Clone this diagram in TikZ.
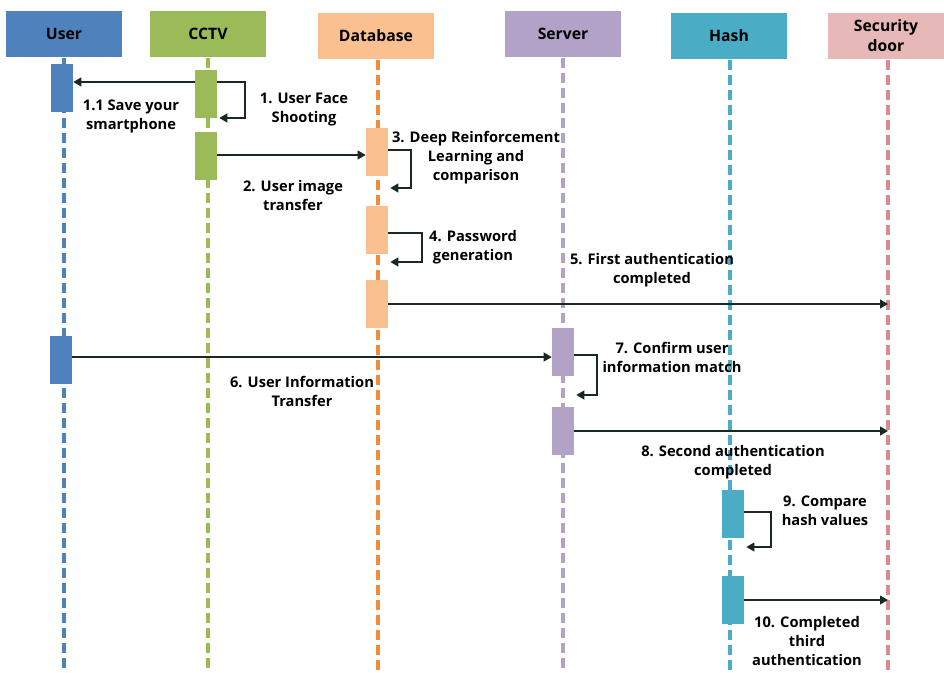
\documentclass[tikz,border=0pt]{standalone}
\usepackage{fontspec}
\setmainfont{Open Sans}
\usepackage{xcolor}
\usetikzlibrary{arrows.meta, positioning, calc}

\definecolor{ublue}{RGB}{79,129,189}
\definecolor{cgreen}{RGB}{155,187,89}
\definecolor{dbhead}{RGB}{250,192,144}
\definecolor{dbline}{RGB}{240,140,60}
\definecolor{spurple}{RGB}{178,162,199}
\definecolor{hteal}{RGB}{75,172,198}
\definecolor{dpink}{RGB}{230,185,184}
\definecolor{dline}{RGB}{214,140,145}
\definecolor{msgcol}{RGB}{22,42,30}

\tikzset{
  head/.style={minimum width=87pt, minimum height=35pt, inner sep=0pt, align=center, font=\bfseries\fontsize{11.8}{15}\selectfont},
  act/.style={minimum width=16.5pt, minimum height=36pt, inner sep=0pt},
  life/.style={line width=2.5pt, dash pattern=on 7.5pt off 3.75pt},
  msg/.style={line width=1.8pt, msgcol, -{Triangle[length=6pt, width=6.5pt]}},
  lbl/.style={align=center, inner sep=0pt, font=\bfseries\fontsize{11}{14.25}\selectfont}
}

\begin{document}
\begin{tikzpicture}[x=0.75pt, y=-0.75pt]
\useasboundingbox (0,0) rectangle (944,673);

% Lifeline heads
\node[head, fill=ublue] (user) at (64,34) {User};
\node[head, fill=cgreen] (cctv) at (208,34) {CCTV};
\node[head, fill=dbhead] (db) at (376,36) {Database};
\node[head, fill=spurple] (server) at (563,34) {Server};
\node[head, fill=hteal] (hash) at (729,36) {Hash};
\node[head, fill=dpink] (door) at (886,36) {Security\\door};

% Lifelines
\foreach \n/\x/\c in {user/64/ublue, cctv/208/cgreen, db/378/dbline, server/563/spurple, hash/730/hteal, door/888/dline} {
    \coordinate (\n end) at (\x,673);
    \draw[life, \c] (\n.south -| \n end) -- (\n end);
}

% Activation boxes
\node[act, fill=ublue] (u1) at (62,88) {};
\node[act, fill=ublue] (u2) at (61,360) {};
\node[act, fill=cgreen] (c1) at (206,94) {};
\node[act, fill=cgreen] (c2) at (206,156) {};
\node[act, fill=dbhead] (d1) at (377,152) {};
\node[act, fill=dbhead] (d2) at (377,230) {};
\node[act, fill=dbhead] (d3) at (377,304) {};
\node[act, fill=spurple] (s1) at (563,352) {};
\node[act, fill=spurple] (s2) at (563,431) {};
\node[act, fill=hteal] (h1) at (733,514) {};
\node[act, fill=hteal] (h2) at (733,600) {};

% Message heights
\coordinate (y11) at (0,82);
\coordinate (y1) at (0,118);
\coordinate (y2) at (0,155);
\coordinate (y3a) at (0,150);
\coordinate (y3b) at (0,188);
\coordinate (y4a) at (0,233);
\coordinate (y4b) at (0,262);
\coordinate (y5) at (0,304);
\coordinate (y6) at (0,357);
\coordinate (y7a) at (0,355);
\coordinate (y7b) at (0,395);
\coordinate (y8) at (0,431);
\coordinate (y9a) at (0,512);
\coordinate (y9b) at (0,547);
\coordinate (y10) at (0,600);

% Messages
\draw[msg] (c1.west |- y11) -- (u1.east |- y11);
\draw[msg] (c1.east |- y11) -- ++(28,0) |- ([xshift=1.5pt]c1.east |- y1);
\draw[msg] (c2.east |- y2) -- (d1.west |- y2);
\draw[msg] (d1.east |- y3a) -- ++(23,0) |- ([xshift=1.5pt]d1.east |- y3b);
\draw[msg] (d2.east |- y4a) -- ++(34,0) |- ([xshift=1.5pt]d2.east |- y4b);
\draw[msg] (d3.east |- y5) -- (doorend |- y5);
\draw[msg] (u2.east |- y6) -- (s1.west |- y6);
\draw[msg] (s1.east |- y7a) -- ++(23,0) |- ([xshift=1.5pt]s1.east |- y7b);
\draw[msg] (s2.east |- y8) -- (doorend |- y8);
\draw[msg] (h1.east |- y9a) -- ++(27,0) |- ([xshift=1.5pt]h1.east |- y9b);
\draw[msg] (h2.east |- y10) -- (doorend |- y10);

% Labels
\node[lbl] (l11) at (131,116) {1.1 Save your\\smartphone};
\node[lbl] (l1) at (304,110) {1. User Face\\Shooting};
\node[lbl] (l2) at (293,196) {2. User image\\transfer};
\node[lbl] (l3) at (476,158) {3. Deep Reinforcement\\Learning and\\comparison};
\node[lbl] (l4) at (473,247) {4. Password\\generation};
\node[lbl] (l5) at (652,270) {5. First authentication\\completed};
\node[lbl] (l6) at (302,391) {6. User Information\\Transfer};
\node[lbl] (l7) at (672,357) {7. Confirm user\\information match};
\node[lbl] (l8) at (733,462) {8. Second authentication\\completed};
\node[lbl] (l9) at (825,511) {9. Compare\\hash values};
\node[lbl] (l10) at (807,641) {10. Completed\\third\\authentication};

\end{tikzpicture}
\end{document}
